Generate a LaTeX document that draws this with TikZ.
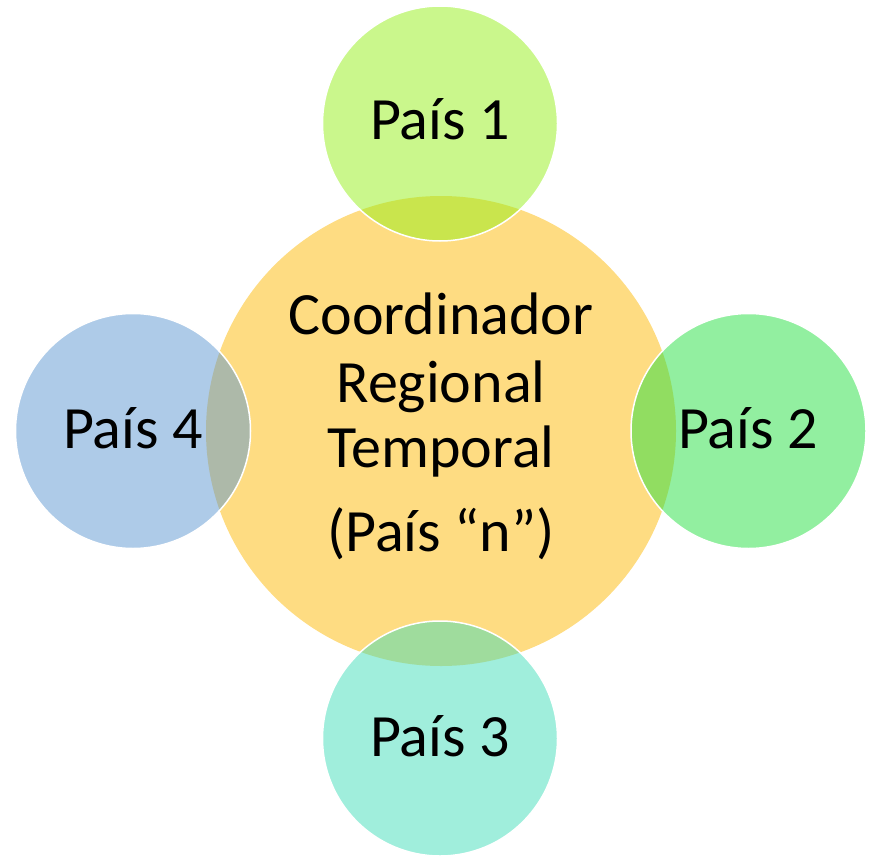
\documentclass[tikz,border=0pt]{standalone}
\usepackage{fontspec}
\setmainfont{Carlito}
\definecolor{ccenter}{RGB}{254,220,130}
\definecolor{cgreen}{RGB}{149,239,25}
\definecolor{cmint}{RGB}{37,223,65}
\definecolor{cteal}{RGB}{65,221,185}
\definecolor{cblue}{RGB}{93,151,209}
\begin{document}
\begin{tikzpicture}[x=1pt,y=-1pt,
  hub/.style={circle,fill=ccenter,draw=none,minimum size=470pt,inner sep=0pt},
  sat/.style={circle,fill=#1,fill opacity=0.5,draw=white,draw opacity=1,line width=1.5pt,minimum size=235pt,inner sep=0pt},
  lbl/.style={font=\fontsize{60}{67}\selectfont,anchor=base,inner sep=0pt,text=black}]
\useasboundingbox (0,0) rectangle (870,856);
\node[hub] (c) at (441,431) {};
\node[sat=cgreen] (p1) at (440,123.5) {};
\node[sat=cmint] (p2) at (748.5,431) {};
\node[sat=cteal] (p3) at (440,738.5) {};
\node[sat=cblue] (p4) at (133,431) {};
\node[lbl] (t1) at (440,140) {País 1};
\node[lbl] (t2) at (748,448) {País 2};
\node[lbl] (t3) at (440,756) {País 3};
\node[lbl] (t4) at (133,448) {País 4};
\node[lbl] (ca) at (441,334) {Coordinador};
\node[lbl] (cb) at (441,402) {Regional};
\node[lbl] (cc) at (441,467) {Temporal};
\node[lbl] (cd) at (441,551) {(País “n”)};
\end{tikzpicture}
\end{document}
